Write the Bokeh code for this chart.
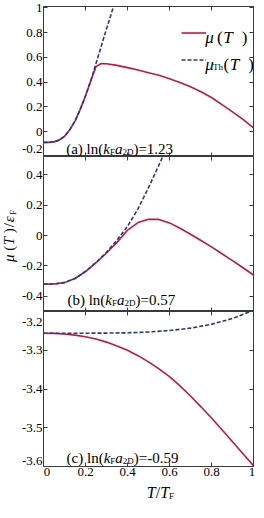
import math
from bokeh.plotting import figure
from bokeh.layouts import column, row
from bokeh.models import (LinearAxis, FixedTicker, CustomJSTickFormatter, Label,
                          Legend, LegendItem, Range1d)
from bokeh.embed import file_html
from bokeh.resources import INLINE

# ---------------- data ----------------
x_ticks = [0, 0.2, 0.4, 0.6, 0.8, 1.0]
x_tick_labels = ["0", "0.2", "0.4", "0.6", "0.8", "1"]

# panel (a)  ln(kF a2D) = 1.23
T_a_th = [0, 0.025, 0.05, 0.075, 0.1, 0.125, 0.15, 0.175, 0.2, 0.225, 0.25, 0.275, 0.3, 0.325, 0.35]
mu_a_th = [-0.086, -0.086, -0.082, -0.067, -0.037, 0.015, 0.085, 0.18, 0.29, 0.41, 0.55, 0.69, 0.83, 0.965, 1.1]
T_a = [0, 0.025, 0.05, 0.075, 0.1, 0.125, 0.15, 0.175, 0.2, 0.225, 0.25, 0.275, 0.3,
       0.35, 0.4, 0.45, 0.5, 0.55, 0.6, 0.65, 0.7, 0.75, 0.8, 0.85, 0.9, 0.95, 1.0]
mu_a = [-0.086, -0.086, -0.082, -0.067, -0.037, 0.015, 0.085, 0.18, 0.29, 0.41, 0.525, 0.55, 0.548,
        0.535, 0.517, 0.497, 0.476, 0.455, 0.428, 0.397, 0.362, 0.322, 0.276, 0.218, 0.16, 0.1, 0.03]
y_ticks_a = [-0.2, 0, 0.2, 0.4, 0.6, 0.8, 1.0]
y_tick_labels_a = ["-0.2", "0", "0.2", "0.4", "0.6", "0.8", "1"]

# panel (b)  ln(kF a2D) = 0.57
T_b_th = [0, 0.05, 0.1, 0.15, 0.2, 0.25, 0.3, 0.35, 0.4, 0.45, 0.5, 0.55, 0.6]
mu_b_th = [-0.32, -0.319, -0.31, -0.283, -0.237, -0.178, -0.11, -0.03, 0.06, 0.175, 0.315, 0.465, 0.62]
T_b = [0, 0.05, 0.1, 0.15, 0.2, 0.25, 0.3, 0.35, 0.4, 0.45, 0.5, 0.55, 0.6, 0.65,
       0.7, 0.75, 0.8, 0.85, 0.9, 0.95, 1.0]
mu_b = [-0.32, -0.319, -0.31, -0.283, -0.237, -0.179, -0.115, -0.045, 0.035, 0.085, 0.107, 0.106,
        0.083, 0.048, 0.008, -0.033, -0.075, -0.12, -0.165, -0.212, -0.26]
y_ticks_b = [-0.4, -0.2, 0, 0.2, 0.4]
y_tick_labels_b = ["-0.4", "-0.2", "0", "0.2", "0.4"]

# panel (c)  ln(kF a2D) = -0.59
T_c_th = [0, 0.1, 0.2, 0.3, 0.4, 0.5, 0.6, 0.7, 0.8, 0.9, 1.0]
mu_c_th = [-3.256, -3.256, -3.256, -3.2557, -3.255, -3.253, -3.249, -3.243, -3.233, -3.218, -3.197]
T_c = [0, 0.05, 0.1, 0.15, 0.2, 0.25, 0.3, 0.35, 0.4, 0.45, 0.5, 0.55, 0.6, 0.65,
       0.7, 0.75, 0.8, 0.85, 0.9, 0.95, 1.0]
mu_c = [-3.256, -3.2565, -3.258, -3.261, -3.265, -3.271, -3.279, -3.289, -3.300, -3.314, -3.330,
        -3.348, -3.368, -3.392, -3.418, -3.446, -3.475, -3.505, -3.536, -3.567, -3.598]
y_ticks_c = [-3.6, -3.5, -3.4, -3.3, -3.2]
y_tick_labels_c = ["-3.6", "-3.5", "-3.4", "-3.3", "-3.2"]

panel_values = ["1.23", "0.57", "-0.59"]
panel_tags = ["(a)", "(b)", "(c)"]

# ---------------- style / layout ----------------
RED = "#c0183f"
BLUE = "#283d78"
FRAME = "#3a3a3a"
FONT = "Liberation Serif"
TICK_FS = "13px"

YLW = 18                 # width of the y-label strip
W = 256 - YLW            # width of each panel figure
LB, RB = 21, 3
TOPA, HA, HB, HC, BOTC, XLH = 6, 150, 155, 155, 16, 20
TOTAL_H = TOPA + HA + HB + HC + BOTC + XLH
FW = W - LB - RB - 0.6   # approx frame width (px)

ROMAN = {'(': 333, ')': 333, 'a': 444, 'b': 500, 'c': 444, ' ': 250, 'l': 278, 'n': 500,
         '=': 564, '.': 250, '-': 333, '/': 278, 'F': 556, 'D': 722, 'T': 611, 'h': 500}
ITAL = {'k': 444, 'a': 500, 'T': 556, 'μ': 520, 'ε': 440}


def tw(s, size, italic=False):
    tab = ITAL if italic else ROMAN
    return sum(tab.get(ch, 500) for ch in s) * size / 1000.0


def add_rich(p, x, y, pieces, angle=0.0, baseline="alphabetic"):
    """pieces: (text, size, italic, dy, gap_before)"""
    off = 0.0
    for pc in pieces:
        text, size, italic, dy = pc[:4]
        gap = pc[4] if len(pc) > 4 else 0.0
        off += gap
        if angle == 0:
            xo, yo = off, dy
        else:
            xo, yo = -dy, off
        p.add_layout(Label(x=x, y=y, x_offset=xo, y_offset=yo, text=text, angle=angle,
                           text_font=FONT, text_font_style="italic" if italic else "normal",
                           text_font_size=f"{size}px", text_color="black",
                           text_baseline=baseline, text_align="left"))
        off += tw(text, size, italic)


blank = CustomJSTickFormatter(code="return ''")


def tick_axis(ticks):
    return LinearAxis(ticker=FixedTicker(ticks=ticks), formatter=blank, axis_line_color=None,
                      major_tick_in=4, major_tick_out=0, minor_tick_line_color=None,
                      major_tick_line_color=FRAME, major_tick_line_width=1,
                      major_label_standoff=0, major_label_text_font_size="0px")


def label_axis(positions, texts):
    f = CustomJSTickFormatter(args=dict(pos=positions, txt=texts), code="""
        for (let i = 0; i < pos.length; i++) { if (Math.abs(pos[i] - tick) < 1e-9) return txt[i]; }
        return '';""")
    return LinearAxis(ticker=FixedTicker(ticks=positions), formatter=f, axis_line_color=None,
                      major_tick_in=0, major_tick_out=0, major_tick_line_color=None,
                      minor_tick_line_color=None, major_label_standoff=1,
                      major_label_text_font=FONT, major_label_text_font_size=TICK_FS,
                      major_label_text_color="black")


def shifted(ticks, lo, hi, pxu, lo_shift, hi_shift):
    out = []
    for t in ticks:
        if abs(t - lo) < 1e-9:
            out.append(t + lo_shift / pxu)
        elif abs(t - hi) < 1e-9:
            out.append(t - hi_shift / pxu)
        else:
            out.append(t)
    return out


def make_fig(yr, frame_h, top, bottom, yticks, ylabels, lo_shift, hi_shift, xlabels):
    p = figure(width=W, height=frame_h + top + bottom, x_range=Range1d(0, 1),
               y_range=Range1d(*yr), output_backend="svg", toolbar_location=None,
               x_axis_location=None, y_axis_location=None,
               min_border_left=LB, min_border_right=RB, min_border_top=top,
               min_border_bottom=bottom)
    p.xgrid.grid_line_color = None
    p.ygrid.grid_line_color = None
    p.outline_line_color = FRAME
    p.outline_line_width = 1
    pxu = frame_h / (yr[1] - yr[0])
    p.add_layout(tick_axis(yticks), "left")
    p.add_layout(label_axis(shifted(yticks, yr[0], yr[1], pxu, lo_shift, hi_shift), ylabels), "left")
    p.add_layout(tick_axis(yticks), "right")
    p.add_layout(tick_axis(x_ticks), "above")
    p.add_layout(tick_axis(x_ticks), "below")
    if xlabels:
        p.add_layout(label_axis(shifted(x_ticks, 0, 1, FW, 3.5, 1.5), x_tick_labels), "below")
    return p


yr_a, yr_b, yr_c = (-0.2, 1.01), (-0.5, 0.52), (-3.6, -3.2)
pa = make_fig(yr_a, HA, TOPA, 0, y_ticks_a, y_tick_labels_a, 7.5, 5, False)
pb = make_fig(yr_b, HB, 0, 0, y_ticks_b, y_tick_labels_b, 0, 0, False)
pc = make_fig(yr_c, HC, 0, BOTC, y_ticks_c, y_tick_labels_c, 6, 10, True)

# curves
ra = pa.line(T_a, mu_a, line_color=RED, line_width=1.6)
da = pa.line(T_a_th, mu_a_th, line_color=BLUE, line_width=1.6, line_dash="4 2")
pb.line(T_b, mu_b, line_color=RED, line_width=1.6)
pb.line(T_b_th, mu_b_th, line_color=BLUE, line_width=1.6, line_dash="4 2")
pc.line(T_c, mu_c, line_color=RED, line_width=1.6)
pc.line(T_c_th, mu_c_th, line_color=BLUE, line_width=1.6, line_dash="4 2")

# legend samples (text drawn separately so the subscript can be set)
pxu_a = HA / (yr_a[1] - yr_a[0])
row1, row2 = 0.80, 0.585
item_h = 25
top_px = (yr_a[1] - row1) * pxu_a - item_h / 2
spacing = int(round((row1 - row2) * pxu_a - item_h))
leg_h = 2 * item_h + spacing
leg = Legend(items=[LegendItem(label=" ", renderers=[ra]), LegendItem(label=" ", renderers=[da])],
             location=(138, HA - top_px - leg_h), padding=0, margin=0, spacing=spacing,
             glyph_width=25, glyph_height=item_h, label_height=item_h, label_standoff=0,
             background_fill_alpha=0, border_line_color=None, label_text_font_size="1px")
pa.add_layout(leg, "center")

add_rich(pa, 0.77, row1 - 0.04, [("μ", 17, True, 0, 0), ("(", 17, False, 0, 3.0),
                                 ("T", 17, True, 0, 0.5), (")", 17, False, 0, 9.0)])
add_rich(pa, 0.77, row2 - 0.04, [("μ", 17, True, 0, 0), ("Th", 9, False, -3, -1.0),
                                 ("(", 17, False, 0, 0.5), ("T", 17, True, 0, 0.5),
                                 (")", 17, False, 0, 9.0)])

# panel tags
for p, tag, val, xx, yy in [(pa, panel_tags[0], panel_values[0], 0.108, -0.2 + 7.5 / pxu_a),
                            (pb, panel_tags[1], panel_values[1], 0.114, -0.425),
                            (pc, panel_tags[2], panel_values[2], 0.110, -3.578)]:
    add_rich(p, xx, yy, [(tag + " ln(", 15, False, 0), ("k", 15, True, 0), ("F", 9, False, -3),
                         ("a", 15, True, 0), ("2D", 9, False, -3), (")=" + val, 15, False, 0)])

# y-axis label strip (left)
py = figure(width=YLW, height=TOTAL_H, x_range=Range1d(0, YLW), y_range=Range1d(0, TOTAL_H),
            output_backend="svg", toolbar_location=None, x_axis_location=None,
            y_axis_location=None, min_border=0, min_border_left=0, min_border_right=0,
            min_border_top=0, min_border_bottom=0, outline_line_color=None)
py.xgrid.grid_line_color = None
py.ygrid.grid_line_color = None
YFS = 15
ylab = [("μ", YFS, True, 0, 0), ("(", YFS, False, 0, 3.5), ("T", YFS, True, 0, 0.5),
        (")", YFS, False, 0, 3.5), ("/", YFS, False, 0, 1.0), ("ε", YFS, True, 0, 1.0),
        ("F", 9, False, -3.5, 0.5)]
ylen = sum(tw(t[0], t[1], t[2]) + t[4] for t in ylab)
y_center = TOTAL_H - (TOPA + HA + HB / 2 + 2)
add_rich(py, YLW / 2 - 0.5, y_center - ylen / 2, ylab, angle=math.pi / 2, baseline="middle")

# x-axis label strip (bottom)
px = figure(width=W, height=XLH, x_range=Range1d(0, W), y_range=Range1d(0, XLH),
            output_backend="svg", toolbar_location=None, x_axis_location=None,
            y_axis_location=None, min_border=0, min_border_left=0, min_border_right=0,
            min_border_top=0, min_border_bottom=0, outline_line_color=None)
px.xgrid.grid_line_color = None
px.ygrid.grid_line_color = None
xlab = [("T", 16, True, 0), ("/", 16, False, 0), ("T", 16, True, 0), ("F", 9, False, -3.5)]
xlen = sum(tw(t[0], t[1], t[2]) for t in xlab)
add_rich(px, LB + 0.514 * FW - xlen / 2, XLH / 2 + 0.5, xlab, baseline="middle")

layout = row(py, column(pa, pb, pc, px, spacing=0), spacing=0)
open("out.html", "w").write(file_html(layout, INLINE))
